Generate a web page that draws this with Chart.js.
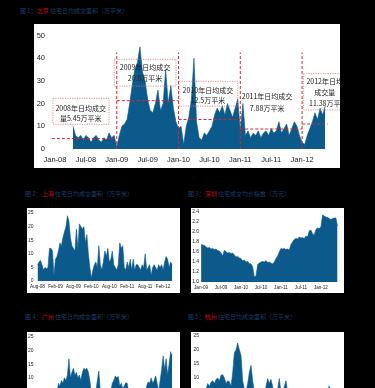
<!DOCTYPE html>
<html>
<head>
<meta charset="utf-8">
<script src="https://cdn.jsdelivr.net/npm/chart.js@4.4.0/dist/chart.umd.min.js"></script>
<style>
  html, body { margin: 0; padding: 0; background: #000; width: 375px; height: 388px; overflow: hidden; }
  body { position: relative; font-family: "Noto Sans CJK SC", "Liberation Sans", sans-serif; }
  canvas { position: absolute; background: #fff; }
  .title { position: absolute; font-size: 6px; line-height: 8px; color: #1f3f6e; white-space: nowrap; }
  .title b { color: #d0021b; font-weight: normal; }
</style>
</head>
<body>
<div class="title" style="left:20px;top:7px">图 1：<b>北京</b> 住宅日均成交面积（万平米）</div>
<div class="title" style="left:25px;top:190px">图 2：<b>上海</b> 住宅日均成交面积（万平米）</div>
<div class="title" style="left:188px;top:190px">图 3：<b>深圳</b> 住宅成交均价指数（万元）</div>
<div class="title" style="left:25px;top:313px">图 4：<b>广州</b> 住宅日均成交面积（万平米）</div>
<div class="title" style="left:188px;top:313px">图 5：<b>杭州</b> 住宅日均成交面积（万平米）</div>

<canvas id="c1" width="306" height="144" style="left:34px;top:24px"></canvas>
<canvas id="c2" width="153" height="85" style="left:27px;top:208px"></canvas>
<canvas id="c3" width="153" height="85" style="left:191px;top:208px"></canvas>
<canvas id="c4" width="153" height="85" style="left:27px;top:332px"></canvas>
<canvas id="c5" width="153" height="85" style="left:191px;top:332px"></canvas>

<script>
// chart 1: half-month readings starting Apr-08 (month index 3.5, Jan-08 = 0)
const beijingDaily = [
  10, 6, 5, 6, 4, 6, 5, 3, 5, 6, 4, 3, 5, 4, 7, 5, 6,
  1, 6, 10, 11, 13, 20, 28, 35, 38, 45, 34, 30, 22, 17, 16, 20, 26, 17, 20, 35, 20, 28, 18, 12,
  9, 10, 2, 10, 14, 22, 40, 12, 5, 4, 7, 6, 8, 10, 15, 18, 16, 19, 15, 20, 17, 14, 18, 22,
  8, 20, 6, 8, 5, 7, 6, 8, 5, 7, 8, 6, 9, 7, 8, 12, 7, 9, 11, 6, 9, 12, 10, 6,
  3, 2, 6, 9, 12, 16, 13, 18, 15, 19
];
const beijingTicks = ["Jan-08", "Jul-08", "Jan-09", "Jul-09", "Jan-10", "Jul-10", "Jan-11", "Jul-11", "Jan-12"];
const yearBreaks = [12, 24, 36, 48];
// [from month, to month, average line level]
const yearAverages = [[-0.6, 12, 4.6], [12, 24, 21.3], [24, 36, 13], [36, 48, 8.8], [48, 53, 11]];
const yearNotes = [
  { box: [-0.4, 10.5, 10.9, 22.3], at: [5, 18.1, 13.4], lines: ["2008年日均成交", "量5.45万平米"] },
  { box: [11.5, 23.5, 27.7, 39.5], at: [17.5, 36.1, 31.1], lines: ["2009年日均成交", "20.8万平米"] },
  { box: [24.1, 35.5, 18.9, 29.8], at: [29.7, 26, 21.4], lines: ["2010年日均成交", "12.5万平米"] },
  { box: null, at: [41.2, 23.1, 18.1], lines: ["2011年日均成交", "7.88万平米"] },
  { box: [48.3, 56.5, 17.2, 33.2], at: [52.4, 29.8, 24.8, 20.2], lines: ["2012年日均", "成交量", "11.38万平"] }
];

// chart 2 and 4: half-month readings from Aug-08
const shanghaiDaily = [
  6, 7, 7.5, 6, 4, 5, 4.5, 5, 12, 12, 11, 2, 8, 9, 11, 14, 13, 16, 18, 20, 24, 22, 16, 13,
  12, 11, 19, 12, 21, 20, 19, 20, 14, 17, 10, 5, 1, 4, 6, 7, 5, 13, 6, 4, 7, 11, 9, 12,
  7, 8, 11, 6, 5, 4, 6, 14, 12, 13, 5, 4, 7, 5, 8, 4, 8, 4, 6, 6, 5, 4, 6, 5,
  10, 4, 5, 6, 2, 5, 6, 5, 4, 6, 5, 6, 4, 7, 9, 8, 5, 7, 6
];
const guangzhouDaily = [
  2, 3, 2, 3, 2.5, 3, 2, 3, 2, 3, 2, 3, 3, 4, 8, 7, 9, 8, 10, 9, 11, 17, 10, 12,
  13.5, 11, 12, 10, 11, 9, 12, 13.5, 13, 13.5, 12, 9, 4, 3, 4, 5, 9, 12.5, 5, 3, 4, 3, 4, 3,
  4, 5, 8, 9, 10.7, 10, 10.5, 7, 8, 6, 7, 8.2, 8, 4, 3, 2, 3, 2, 3, 2, 3, 2, 3, 4,
  3, 7, 8.5, 8, 10, 8, 9, 10.7, 8, 5, 9, 13, 18, 13, 17, 11, 15, 19.6, 18
];
const halfYearTicksA = ["Aug-08", "Feb-09", "Aug-09", "Feb-10", "Aug-10", "Feb-11", "Aug-11", "Feb-12"];

// chart 3 and 5: half-month readings from Jan-09
const shenzhenIndex = [
  1.75, 1.74, 1.73, 1.70, 1.68, 1.69, 1.66, 1.67, 1.65, 1.66, 1.63, 1.62, 1.58, 1.52, 1.64, 1.60,
  1.58, 1.59, 1.57, 1.58, 1.54, 1.50, 1.51, 1.48, 1.47, 1.42, 1.44, 1.40, 1.41, 1.37, 1.36, 1.30,
  1.10, 1.12, 1.35, 1.38, 1.40, 1.41, 1.40, 1.43, 1.39, 1.40, 1.38, 1.36, 1.40, 1.47, 1.52, 1.60,
  1.67, 1.66, 1.67, 1.65, 1.66, 1.64, 1.75, 1.80, 1.85, 1.87, 1.86, 1.90, 1.88, 1.89, 1.87, 1.92,
  1.90, 2.02, 2.04, 1.96, 1.94, 2.05, 2.08, 2.07, 2.10, 2.34, 2.32, 2.30, 2.29, 2.27, 2.25, 2.27,
  2.28, 2.28, 2.12
];
const hangzhouDaily = [
  3, 4, 5, 6, 8, 7, 8.5, 9, 8, 9.5, 10, 9, 11, 11.2, 10, 8, 9, 8.7, 7, 12, 19, 20, 22.5, 20,
  18, 9, 6, 5, 8, 12, 14.5, 9, 5, 4, 3, 4, 3, 5, 4, 7, 9.8, 8, 9.5, 7, 4, 5, 6, 9.8,
  5, 4, 7, 9, 5, 3, 4, 3, 4, 3, 2, 3, 4, 3, 2, 3, 4, 3, 2, 3, 4, 3, 4, 3,
  4, 3, 5, 4, 5, 7.2, 4, 3, 4, 5, 4
];
const halfYearTicksB = ["Jan-09", "Jul-09", "Jan-10", "Jul-10", "Jan-11", "Jul-11", "Jan-12"];

const BLUE = "#0c5a8c";
const TICK_FONT = "Liberation Sans";

function areaChart(id, o) {
  const pts = o.values.map((v, i) => ({ x: o.start + i * 0.5, y: v }));
  return new Chart(document.getElementById(id), {
    type: "line",
    data: {
      datasets: [{
        data: pts,
        fill: o.fill || "origin",
        backgroundColor: BLUE,
        borderColor: BLUE,
        borderWidth: 0.6,
        pointRadius: 0,
        tension: 0
      }]
    },
    options: {
      responsive: false,
      animation: false,
      events: [],
      layout: { padding: o.padding },
      plugins: { legend: { display: false }, tooltip: { enabled: false } },
      scales: {
        x: {
          type: "linear",
          min: o.xMin,
          max: o.xMax,
          grid: { display: false, drawTicks: false },
          border: { display: false },
          afterBuildTicks: s => { s.ticks = o.tickAt.map(v => ({ value: v })); },
          afterFit: s => { s.height = o.xHeight; },
          ticks: {
            autoSkip: false,
            maxRotation: 0,
            padding: o.xPad,
            color: "#222",
            font: { size: o.xFont || o.font, family: TICK_FONT },
            callback: (v, i) => o.tickLabels[i]
          }
        },
        y: {
          min: o.yMin,
          max: o.yMax,
          grid: { display: false, drawTicks: false },
          border: { display: false },
          afterFit: s => { s.width = o.yWidth; },
          ticks: {
            stepSize: o.yStep,
            padding: o.yPad,
            color: "#222",
            font: { size: o.font, family: TICK_FONT },
            callback: o.yFormat || (v => v)
          }
        }
      }
    },
    plugins: o.plugins || []
  });
}

// dashed yearly averages, dividers and notes on chart 1
const yearNotesPlugin = {
  id: "yearNotes",
  afterDatasetsDraw(chart) {
    const { ctx, scales: { x, y } } = chart;
    ctx.save();
    ctx.strokeStyle = "#d9262b";
    ctx.lineWidth = 1;
    ctx.setLineDash([3, 2]);
    yearAverages.forEach(([a, b, v]) => {
      ctx.beginPath();
      ctx.moveTo(x.getPixelForValue(a), y.getPixelForValue(v));
      ctx.lineTo(x.getPixelForValue(b), y.getPixelForValue(v));
      ctx.stroke();
    });
    yearBreaks.forEach(m => {
      ctx.beginPath();
      ctx.moveTo(x.getPixelForValue(m), y.getPixelForValue(0));
      ctx.lineTo(x.getPixelForValue(m), y.getPixelForValue(42.5));
      ctx.stroke();
    });
    ctx.strokeStyle = "#e07070";
    ctx.lineWidth = 0.8;
    ctx.setLineDash([1.2, 1.2]);
    yearNotes.forEach(n => {
      if (!n.box) return;
      const [a, b, lo, hi] = n.box;
      const l = x.getPixelForValue(a), r = x.getPixelForValue(b);
      const t = y.getPixelForValue(hi), btm = y.getPixelForValue(lo);
      ctx.strokeRect(l, t, r - l, btm - t);
    });
    ctx.setLineDash([]);
    ctx.fillStyle = "#222";
    ctx.font = '7px "Noto Sans CJK SC"';
    ctx.textAlign = "center";
    ctx.textBaseline = "middle";
    yearNotes.forEach(n => {
      const cx = x.getPixelForValue(n.at[0]);
      n.lines.forEach((txt, i) => ctx.fillText(txt, cx, y.getPixelForValue(n.at[i + 1])));
    });
    ctx.restore();
  }
};

areaChart("c1", {
  values: beijingDaily, start: 3.5,
  xMin: -0.58, xMax: 54.2, tickAt: [0, 6, 12, 18, 24, 30, 36, 42, 48], tickLabels: beijingTicks,
  yMin: 0, yMax: 50, yStep: 10,
  padding: { top: 6, right: 6, bottom: 0, left: 0 },
  yWidth: 18, xHeight: 19, xPad: 6, yPad: 7, font: 7.5,
  plugins: [yearNotesPlugin]
});

areaChart("c2", {
  values: shanghaiDaily, start: 0,
  xMin: -0.67, xMax: 46.3, tickAt: [0, 6, 12, 18, 24, 30, 36, 42], tickLabels: halfYearTicksA,
  yMin: 0, yMax: 25, yStep: 5,
  padding: { top: 3, right: 4, bottom: 0, left: 0 },
  yWidth: 8, xHeight: 12, xPad: 3, yPad: 2, font: 5, xFont: 4.6
});

areaChart("c3", {
  values: shenzhenIndex, start: 0, fill: "start",
  xMin: -0.3, xMax: 42.04, tickAt: [0, 6, 12, 18, 24, 30, 36], tickLabels: halfYearTicksB,
  yMin: 1.0, yMax: 2.4, yStep: 0.2, yFormat: v => v.toFixed(1),
  padding: { top: 3, right: 3, bottom: 0, left: 0 },
  yWidth: 9, xHeight: 11, xPad: 3, yPad: 1, font: 5, xFont: 4.6
});

areaChart("c4", {
  values: guangzhouDaily, start: 0,
  xMin: -0.67, xMax: 46.3, tickAt: [0, 6, 12, 18, 24, 30, 36, 42], tickLabels: halfYearTicksA,
  yMin: 0, yMax: 25, yStep: 5,
  padding: { top: 3, right: 4, bottom: 0, left: 0 },
  yWidth: 8, xHeight: 12, xPad: 3, yPad: 2, font: 5, xFont: 4.6
});

areaChart("c5", {
  values: hangzhouDaily, start: 0,
  xMin: -0.3, xMax: 42.04, tickAt: [0, 6, 12, 18, 24, 30, 36], tickLabels: halfYearTicksB,
  yMin: 0, yMax: 25, yStep: 5,
  padding: { top: 3, right: 3, bottom: 0, left: 0 },
  yWidth: 9, xHeight: 11, xPad: 3, yPad: 1, font: 5, xFont: 4.6
});
</script>
</body>
</html>
